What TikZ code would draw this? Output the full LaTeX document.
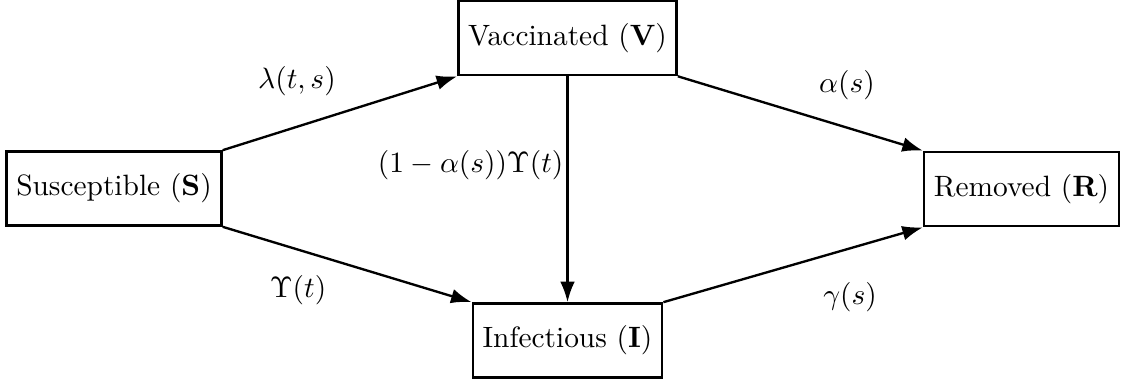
\documentclass[tikz,border=0pt]{standalone}
\usetikzlibrary{arrows.meta}
\begin{document}
\begin{tikzpicture}[x=0.34pt,y=-0.34pt,
  box/.style={draw,line width=0.85pt,minimum height=25.2pt,inner sep=3.3pt,fill=white},
  flow/.style={line width=0.8pt,-{Latex[length=7pt,width=5pt]}},
  lab/.style={inner sep=0pt}]
\useasboundingbox (0,0) rectangle (1121,383);
\node[box] (S) at (114,188.5) {Susceptible (\textbf{S})};
\node[box] (V) at (567.5,38) {Vaccinated (\textbf{V})};
\node[box] (I) at (567.5,340.5) {Infectious (\textbf{I})};
\node[box] (R) at (1021.5,189) {Removed (\textbf{R})};
\draw[flow] (S.north east) -- (V.south west);
\draw[flow] (S.south east) -- (I.north west);
\draw[flow] (V.south east) -- (R.north west);
\draw[flow] (I.north east) -- (R.south west);
\draw[flow] (V.south) -- (I.north);
\node[lab] (l1) at (297,81) {$\lambda(t,s)$};
\node[lab] (l2) at (298,290) {$\Upsilon(t)$};
\node[lab] (l3) at (847,85) {$\alpha(s)$};
\node[lab] (l4) at (850,297) {$\gamma(s)$};
\node[lab,anchor=east] (l5) at (564,165) {$(1-\alpha(s))\Upsilon(t)$};
\end{tikzpicture}
\end{document}
